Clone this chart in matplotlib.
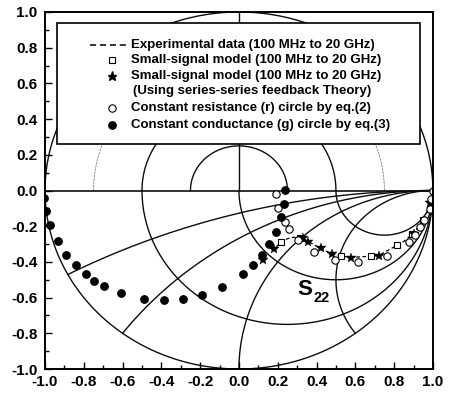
import numpy as np
import matplotlib as mpl
mpl.use('Agg')
import matplotlib.pyplot as plt
from matplotlib.patches import Rectangle
from matplotlib.ticker import MultipleLocator, FormatStrFormatter

# Experimental S22 (100 MHz to 20 GHz), dashed line
exp_x = [1.0, 0.99, 0.97, 0.94, 0.90, 0.85, 0.815, 0.76, 0.72, 0.68, 0.62, 0.578,
         0.525, 0.48, 0.42, 0.36, 0.32, 0.28, 0.25, 0.216, 0.19]
exp_y = [-0.01, -0.06, -0.12, -0.18, -0.24, -0.285, -0.307, -0.34, -0.365, -0.368,
         -0.372, -0.376, -0.366, -0.355, -0.324, -0.287, -0.264, -0.262, -0.27, -0.287, -0.32]

# Small-signal model
sq_x = [0.993, 0.984, 0.95, 0.893, 0.815, 0.679, 0.525, 0.314, 0.216]
sq_y = [-0.05, -0.106, -0.163, -0.243, -0.307, -0.368, -0.366, -0.268, -0.287]

# Small-signal model, series-series feedback
st_x = [0.985, 0.90, 0.72, 0.578, 0.482, 0.423, 0.358, 0.328, 0.181, 0.125]
st_y = [-0.07, -0.242, -0.366, -0.378, -0.358, -0.324, -0.287, -0.264, -0.33, -0.39]

# Constant resistance circle, eq.(2)
rc_x = [1.0, 0.99, 0.985, 0.955, 0.935, 0.91, 0.875, 0.765, 0.613, 0.496, 0.387,
        0.306, 0.259, 0.235, 0.202, 0.19]
rc_y = [0.0, -0.05, -0.105, -0.165, -0.205, -0.25, -0.29, -0.365, -0.40, -0.387,
        -0.345, -0.275, -0.218, -0.175, -0.10, -0.017]

# Constant conductance circle, eq.(3)
gc_x = [-1.005, -0.995, -0.975, -0.935, -0.89, -0.84, -0.79, -0.745, -0.695, -0.61,
        -0.49, -0.385, -0.29, -0.19, -0.087, 0.02, 0.073, 0.117, 0.155, 0.19, 0.216,
        0.233, 0.238]
gc_y = [-0.04, -0.115, -0.195, -0.285, -0.36, -0.42, -0.465, -0.505, -0.535, -0.575,
        -0.605, -0.615, -0.61, -0.585, -0.54, -0.465, -0.415, -0.36, -0.30, -0.23,
        -0.15, -0.075, 0.005]

# Chart grid
gamma_solid = [0.25, 0.5, 1.0]
gamma_thin = [0.75]
r_values = [1. / 3., 1., 3.]
x_values = [0.25, 0.5, 1., 2.]

tick_font = 'Liberation Sans'
leg_font = ['Liberation Sans Narrow', 'Liberation Sans']

fig = plt.figure(figsize=(4.5, 3.93), dpi=100)
ax = fig.add_axes([0.1, 0.061, 0.862, 0.9085])

gc = '0.05'
glw = 1.0
th = np.linspace(0, np.pi, 400)
for g in gamma_solid:
    ax.plot(g * np.cos(th), g * np.sin(th), color=gc, lw=glw, zorder=1)
for g in gamma_thin:
    ax.plot(g * np.cos(th), g * np.sin(th), color='0.5', lw=0.6,
            ls=(0, (3, 1)), zorder=1)
ax.plot([0, 0], [0, 1], color=gc, lw=glw, zorder=1)
ax.plot([-1, 1], [0, 0], color=gc, lw=1.2, zorder=1)

# lower half: unit circle, resistance circles, reactance arcs
th2 = np.linspace(np.pi, 2 * np.pi, 400)
ax.plot(np.cos(th2), np.sin(th2), color=gc, lw=glw, zorder=1)
rr = np.concatenate([np.linspace(0, 10, 600), np.logspace(1, 4, 200)])
for r in r_values:
    z = r - 1j * rr
    G = (z - 1) / (z + 1)
    ax.plot(G.real, G.imag, color=gc, lw=glw, zorder=1)
for x in x_values:
    z = rr - 1j * x
    G = (z - 1) / (z + 1)
    ax.plot(G.real, G.imag, color=gc, lw=glw, zorder=1)

# data
ax.plot(exp_x, exp_y, color='black', lw=0.9, ls=(0, (3, 2)), zorder=3)
ax.plot(sq_x, sq_y, ls='none', marker='s', ms=4.5, mfc='white', mec='black',
        mew=0.8, zorder=4)
ax.plot(st_x, st_y, ls='none', marker='*', ms=7, mfc='black', mec='black',
        mew=0.3, zorder=4)
ax.plot(rc_x, rc_y, ls='none', marker='o', ms=5.3, mfc='white', mec='black',
        mew=0.8, zorder=4)
ax.plot(gc_x, gc_y, ls='none', marker='o', ms=5.3, mfc='black', mec='black',
        zorder=4)

ax.text(0.342, -0.557, 'S', fontsize=16, fontweight='bold', family=tick_font,
        ha='center', va='center')
ax.text(0.425, -0.60, '22', fontsize=10.5, fontweight='bold', family=tick_font,
        ha='center', va='center')

# Legend box
ax.add_patch(Rectangle((0.031, 0.63), 0.935, 0.339, transform=ax.transAxes,
                       facecolor='white', edgecolor='black', lw=1.2, zorder=6))
rows = [0.908, 0.866, 0.821, 0.779, 0.731, 0.683]
labels = ['Experimental data (100 MHz to 20 GHz)',
          'Small-signal model (100 MHz to 20 GHz)',
          'Small-signal model (100 MHz to 20 GHz)',
          '(Using series-series feedback Theory)',
          'Constant resistance (r) circle by eq.(2)',
          'Constant conductance (g) circle by eq.(3)']
xtext = [0.222, 0.222, 0.222, 0.227, 0.222, 0.222]
for yy, lab, xt in zip(rows, labels, xtext):
    ax.text(xt, yy, lab, transform=ax.transAxes, fontsize=9.5, fontweight='bold',
            family=leg_font, ha='left', va='center', zorder=7)
mx = 0.173
ax.plot([0.116, 0.214], [rows[0], rows[0]], transform=ax.transAxes, color='black',
        lw=1.1, ls=(0, (4, 2.5)), zorder=7)
ax.plot([mx], [rows[1]], transform=ax.transAxes, marker='s', ms=4.5, mfc='white',
        mec='black', mew=0.8, zorder=7)
ax.plot([mx], [rows[2]], transform=ax.transAxes, marker='*', ms=6.5, color='black',
        zorder=7)
ax.plot([mx], [rows[4]], transform=ax.transAxes, marker='o', ms=5.3, mfc='white',
        mec='black', mew=0.8, zorder=7)
ax.plot([mx], [rows[5]], transform=ax.transAxes, marker='o', ms=5.3, color='black',
        zorder=7)

# axes
ax.set_xlim(-1, 1)
ax.set_ylim(-1, 1)
for s in ax.spines.values():
    s.set_linewidth(1.4)
    s.set_zorder(8)
ax.xaxis.set_major_locator(MultipleLocator(0.2))
ax.xaxis.set_minor_locator(MultipleLocator(0.1))
ax.yaxis.set_major_locator(MultipleLocator(0.2))
ax.yaxis.set_minor_locator(MultipleLocator(0.1))
ax.xaxis.set_major_formatter(FormatStrFormatter('%.1f'))
ax.yaxis.set_major_formatter(FormatStrFormatter('%.1f'))
ax.tick_params(which='both', direction='in', top=False, right=False, width=1.0)
ax.tick_params(which='major', length=5)
ax.tick_params(which='minor', length=3)
ax.tick_params(axis='x', which='major', pad=4)
ax.tick_params(axis='y', which='major', pad=5.5)
for lab in ax.get_xticklabels() + ax.get_yticklabels():
    lab.set_fontfamily(tick_font)
    lab.set_fontweight('bold')
    lab.set_fontsize(11)

fig.savefig('out.png', dpi=100)
